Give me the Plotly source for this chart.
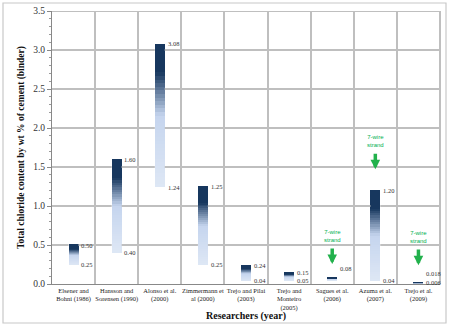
import plotly.graph_objects as go

# Reported chloride threshold ranges (total chloride, % by wt of cement/binder)
researchers = [
    "Elsener and<br>Bohni (1986)",
    "Hansson and<br>Sorensen (1990)",
    "Alonso et al.<br>(2000)",
    "Zimmermann et<br>al (2000)",
    "Trejo and Pilai<br>(2003)",
    "Trejo and<br>Monteiro<br>(2005)",
    "Sagues et al.<br>(2006)",
    "Azuma et al.<br>(2007)",
    "Trejo et al.<br>(2009)",
]
low_values = [0.25, 0.40, 1.24, 0.25, 0.04, 0.05, 0.05, 0.04, 0.006]
high_values = [0.50, 1.60, 3.08, 1.25, 0.24, 0.15, 0.08, 1.20, 0.018]
label_decimals = [2, 2, 2, 2, 2, 2, 2, 2, 3]
show_low_label = [True, True, True, True, True, True, False, True, True]
strand_studies = [6, 7, 8]  # indices of studies on 7-wire strand
y_ticks = [0.0, 0.5, 1.0, 1.5, 2.0, 2.5, 3.0, 3.5]

positions = list(range(len(researchers)))
x_lo, x_hi = -0.5, len(researchers) - 0.5
bar_width = 0.23

# colour ramp of each bar, from its low end (0) to its high end (1)
ramp = [(0.0, (222, 231, 245)), (0.50, (197, 213, 238)), (0.80, (23, 55, 94)), (1.0, (23, 55, 94))]


def ramp_color(f):
    for (f0, c0), (f1, c1) in zip(ramp[:-1], ramp[1:]):
        if f <= f1:
            t = 0 if f1 == f0 else (f - f0) / (f1 - f0)
            c = [round(a + (b - a) * t) for a, b in zip(c0, c1)]
            return f"rgb({c[0]},{c[1]},{c[2]})"
    return "rgb(23,55,94)"


grid_color = "#BFBFBF"
fig = go.Figure()

# each floating bar is painted as a stack of thin slices to give a vertical gradient
n_slices = 40
for j in range(n_slices):
    bases, heights = [], []
    for lo, hi in zip(low_values, high_values):
        step = (hi - lo) / n_slices
        bases.append(lo + step * j)
        heights.append(step * 1.02)
    fig.add_trace(go.Bar(
        x=positions, y=heights, base=bases, width=bar_width,
        marker=dict(color=ramp_color((j + 0.5) / n_slices), line=dict(width=0)),
        showlegend=False, hoverinfo="skip",
    ))

# horizontal gridlines, interrupted wherever a bar covers them
gx, gy = [], []
for v in y_ticks[1:]:
    start = x_lo
    for i, (lo, hi) in enumerate(zip(low_values, high_values)):
        if lo <= v <= hi:
            gx += [start, i - bar_width / 2, None]
            gy += [v, v, None]
            start = i + bar_width / 2
    gx += [start, x_hi, None]
    gy += [v, v, None]
fig.add_trace(go.Scatter(
    x=gx, y=gy, mode="lines", line=dict(color=grid_color, width=2),
    showlegend=False, hoverinfo="skip", cliponaxis=False,
))

annotations = []
px_per_unit = 78.0
label_font = dict(family="Liberation Serif", size=6.5, color="#333333")
for i, (lo, hi, d) in enumerate(zip(low_values, high_values, label_decimals)):
    gap_px = (hi - lo) * px_per_unit
    up, down = (9.0, 1.5) if gap_px < 5 else (0.0, 0.0)
    annotations.append(dict(
        x=i + bar_width / 2 + 0.02, y=hi, text=f"{hi:.{d}f}", showarrow=False,
        xanchor="left", yanchor="middle", yshift=up, font=label_font,
    ))
    if show_low_label[i]:
        annotations.append(dict(
            x=i + bar_width / 2 + 0.02, y=lo, text=f"{lo:.{d}f}", showarrow=False,
            xanchor="left", yanchor="middle", yshift=down, font=label_font,
        ))

# "7-wire strand" callouts with green arrows
green = "#22B14C"
callout_y = {6: 0.615, 7: 1.83, 8: 0.60}
for i in strand_studies:
    ty = callout_y[i]
    annotations.append(dict(
        x=i, y=ty, text="7-wire<br>strand", showarrow=False,
        font=dict(family="Liberation Sans", size=6, color="#00B050"),
        xanchor="center", yanchor="middle",
    ))
    annotations.append(dict(
        x=i, y=ty - 0.36, ax=i, ay=ty - 0.14, axref="x", ayref="y",
        xref="x", yref="y", text="", showarrow=True,
        arrowhead=2, arrowsize=0.55, arrowwidth=3.5, arrowcolor=green,
    ))

# x-axis title
annotations.append(dict(
    x=0.5, y=-32 / 273, xref="paper", yref="paper", text="<b>Researchers (year)</b>",
    showarrow=False, xanchor="center", yanchor="middle",
    font=dict(family="Liberation Serif", size=10, color="#111111"),
))

shapes = [
    dict(type="line", xref="paper", yref="paper", x0=1, x1=1, y0=0, y1=1,
         line=dict(color=grid_color, width=2)),
    dict(type="rect", xref="paper", yref="paper",
         x0=-49 / 388, x1=1 + 6 / 388, y0=-39 / 273, y1=1 + 8 / 273,
         line=dict(color="#C8C8C8", width=1.2), fillcolor="rgba(0,0,0,0)", layer="below"),
]

fig.update_layout(
    width=450, height=327,
    margin=dict(l=52, r=10, t=11, b=43, autoexpand=False),
    paper_bgcolor="white", plot_bgcolor="white",
    barmode="overlay", bargap=0,
    font=dict(family="Liberation Serif", color="#222222"),
    annotations=annotations,
    shapes=shapes,
    xaxis=dict(
        range=[x_lo, x_hi], automargin=False,
        tickmode="array", tickvals=positions, ticktext=researchers,
        tickfont=dict(family="Liberation Serif", size=6.5, color="#222222"),
        showgrid=False, zeroline=False, ticks="",
        minor=dict(tick0=0.5, dtick=1, showgrid=True, gridcolor=grid_color, gridwidth=2),
        showline=True, linecolor="#888888", linewidth=1, mirror=False,
    ),
    yaxis=dict(
        range=[0, 3.5], automargin=False,
        tickmode="array", tickvals=y_ticks, ticktext=[f"{v:.1f}" for v in y_ticks],
        tickfont=dict(family="Liberation Serif", size=9.5, color="#333333"),
        showgrid=False, zeroline=False,
        showline=True, linecolor="#888888", linewidth=1,
        ticks="outside", ticklen=4, tickcolor="#888888",
        minor=dict(tick0=0, dtick=0.1, ticks="outside", ticklen=2, tickcolor="#999999", showgrid=False),
        title=dict(text="<b>Total chloride content by wt % of cement (binder)</b>",
                   font=dict(family="Liberation Serif", size=9.5, color="#111111"), standoff=6),
    ),
)

fig.write_html("out.html")
